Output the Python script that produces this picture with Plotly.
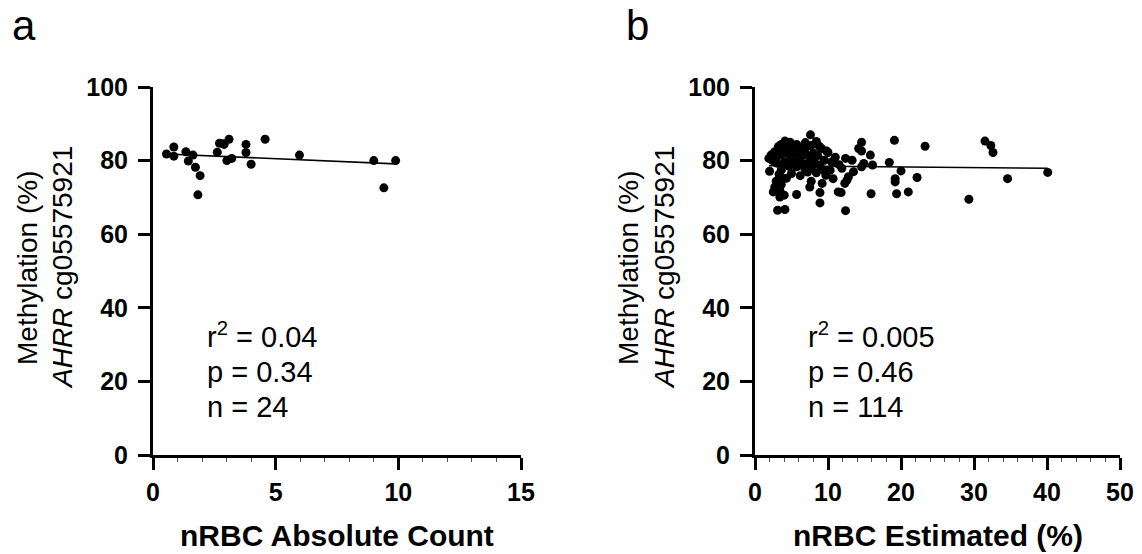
import numpy as np
import plotly.graph_objects as go

# Panel a: nRBC absolute count vs methylation
a_x = [0.55, 0.85, 0.85, 1.34, 1.44, 1.63, 1.73, 1.92, 1.83, 2.62, 2.71, 2.90,
       3.10, 3.01, 3.21, 3.79, 3.79, 4.00, 4.57, 5.97, 9.00, 9.41, 9.89, 2.85]
a_y = [81.8, 83.7, 81.2, 82.4, 79.9, 81.5, 78.2, 75.9, 70.7, 82.3, 84.7, 84.4,
       85.8, 80.0, 80.6, 84.4, 82.2, 79.0, 85.8, 81.5, 80.0, 72.6, 80.0, 84.6]

# Panel b: nRBC estimated (%) vs methylation
b_x = [7.6, 8.4, 14.6, 19.1, 23.3, 4.1, 3.6, 4.8, 5.7, 3.2, 6.4, 7.1, 7.7, 9.1, 9.8,
       10.0, 14.2, 14.6, 15.8, 2.7, 2.2, 1.9, 2.9, 3.6, 4.5, 5.5, 6.1, 7.1, 8.0, 11.0,
       12.4, 4.1, 3.6, 5.0, 5.9, 6.6, 7.5, 8.2, 8.9, 5.7, 6.8, 7.7, 9.4, 10.3, 11.9,
       14.6, 14.9, 16.1, 18.4, 2.0, 3.6, 5.0, 8.4, 9.7, 10.7, 12.8, 13.5, 20.0, 3.4,
       12.6, 19.2, 19.2, 22.2, 7.7, 3.6, 2.7, 7.5, 12.3, 2.5, 3.4, 5.7, 8.9, 11.4,
       11.8, 15.9, 19.4, 21.0, 3.4, 4.0, 8.9, 3.1, 4.1, 12.4, 31.5, 32.3, 32.6, 29.3,
       34.6, 40.1,
       4.4, 5.2, 6.0, 4.9, 3.9, 6.8, 5.3, 6.2, 7.9, 8.6, 4.6, 3.0, 2.4, 6.9, 8.8,
       9.5, 10.5, 11.5, 3.3, 4.3, 6.2, 2.9, 9.2, 13.3, 7.2]
b_y = [87.0, 85.2, 85.0, 85.5, 83.9, 85.3, 84.4, 85.0, 84.4, 83.8, 83.5, 83.8, 84.1,
       83.3, 82.6, 82.2, 83.3, 82.6, 81.5, 82.4, 81.5, 80.6, 80.6, 81.5, 82.0, 82.4,
       81.5, 81.5, 82.0, 80.9, 80.6, 79.7, 78.8, 80.1, 80.1, 79.2, 79.7, 79.2, 78.8,
       78.3, 77.9, 78.1, 77.4, 77.4, 77.9, 78.3, 79.2, 78.8, 79.5, 77.1, 77.4, 76.5,
       76.7, 76.0, 75.1, 75.6, 77.0, 77.2, 75.6, 74.7, 75.1, 74.2, 75.4, 74.4, 73.5,
       72.8, 72.8, 73.8, 71.5, 71.9, 70.8, 71.3, 71.5, 71.3, 71.0, 71.0, 71.5, 70.1,
       70.6, 68.5, 66.5, 66.7, 66.4, 85.3, 84.1, 82.2, 69.5, 75.1, 76.8,
       83.9, 83.2, 82.9, 81.3, 82.6, 82.8, 79.0, 80.9, 80.6, 81.4, 78.5, 79.3, 80.0,
       84.9, 83.9, 80.1, 79.6, 78.9, 76.3, 75.2, 75.9, 74.4, 73.8, 80.1, 76.9]

a_stats = ["r<sup>2</sup> = 0.04", "p = 0.34", "n = 24"]
b_stats = ["r<sup>2</sup> = 0.005", "p = 0.46", "n = 114"]
x_titles = ["nRBC Absolute Count", "nRBC Estimated (%)"]
y_title_lines = ["Methylation (%)", "<i>AHRR</i> cg05575921"]
panel_letters = ["a", "b"]
a_xticks = [0, 5, 10, 15]
b_xticks = [0, 10, 20, 30, 40, 50]
y_ticks = [0, 20, 40, 60, 80, 100]

FONT = "Liberation Sans, Arial, sans-serif"
OFF = 8                      # page body margin
W, H = 1142 - OFF, 554 - OFF


def px(x):
    return (x - OFF) / W


def py(y):
    return 1 - (y - OFF) / H


fig = go.Figure()


def add_panel(xs, ys, xa, ya):
    fig.add_trace(go.Scatter(x=xs, y=ys, mode="markers", xaxis=xa, yaxis=ya,
                             marker=dict(color="black", size=9, line=dict(width=0)),
                             showlegend=False, cliponaxis=False))
    k, b = np.polyfit(xs, ys, 1)
    lx = np.array([min(xs), max(xs)])
    fig.add_trace(go.Scatter(x=lx, y=k * lx + b, mode="lines", xaxis=xa, yaxis=ya,
                             line=dict(color="black", width=1.6), showlegend=False))


add_panel(a_x, a_y, "x", "y")
add_panel(b_x, b_y, "x2", "y2")

ydom = [py(455), py(87)]
common_axis = dict(showgrid=False, zeroline=False, showline=True, linecolor="black",
                   linewidth=3, ticks="outside", ticklen=12, tickwidth=3,
                   tickcolor="black", automargin=False,
                   tickfont=dict(family=FONT, size=25, color="black", weight="bold"))

fig.update_layout(
    template="none",
    width=W, height=H, margin=dict(l=0, r=0, t=0, b=0, pad=0),
    plot_bgcolor="white", paper_bgcolor="white",
    xaxis=dict(domain=[px(153), px(521)], range=[0, 15], tickvals=a_xticks,
               anchor="y", ticklabelstandoff=1,
               minor=dict(dtick=1, ticks="outside", ticklen=4, tickwidth=1,
                          tickcolor="#555555", showgrid=False),
               **common_axis),
    yaxis=dict(domain=ydom, range=[0, 100], tickvals=y_ticks, anchor="x",
               ticklabelstandoff=5, **common_axis),
    xaxis2=dict(domain=[px(755), px(1120)], range=[0, 50], tickvals=b_xticks,
                anchor="y2", ticklabelstandoff=1,
                minor=dict(dtick=2, ticks="outside", ticklen=4, tickwidth=1,
                           tickcolor="#555555", showgrid=False),
                **common_axis),
    yaxis2=dict(domain=ydom, range=[0, 100], tickvals=y_ticks, anchor="x2",
                ticklabelstandoff=5, **common_axis),
)

ann = []
# panel letters
for t, cx in zip(panel_letters, [24, 637]):
    ann.append(dict(text=t, x=px(cx), y=py(26), xref="paper", yref="paper",
                    xanchor="center", yanchor="middle", showarrow=False,
                    font=dict(family=FONT, size=42, color="black")))
# x titles
for t, cx in zip(x_titles, [337, 938]):
    ann.append(dict(text=t, x=px(cx), y=py(535), xref="paper", yref="paper",
                    xanchor="center", yanchor="middle", showarrow=False,
                    font=dict(family=FONT, size=30, color="black", weight="bold")))
# y titles (two lines per panel)
for cx_pair in [(27, 62), (628, 664)]:
    for t, cx in zip(y_title_lines, cx_pair):
        ann.append(dict(text=t, x=px(cx), y=py(268), xref="paper", yref="paper",
                        xanchor="center", yanchor="middle", showarrow=False,
                        textangle=-90,
                        font=dict(family=FONT, size=28, color="black")))
# stats text
for stats, lx in [(a_stats, 205), (b_stats, 806)]:
    for i, s in enumerate(stats):
        ann.append(dict(text=s, x=px(lx), y=py(355 + 35 * i), xref="paper",
                        yref="paper", xanchor="left", yanchor="bottom",
                        showarrow=False,
                        font=dict(family=FONT, size=29, color="black")))
fig.update_layout(annotations=ann)

fig.write_html("out.html")
